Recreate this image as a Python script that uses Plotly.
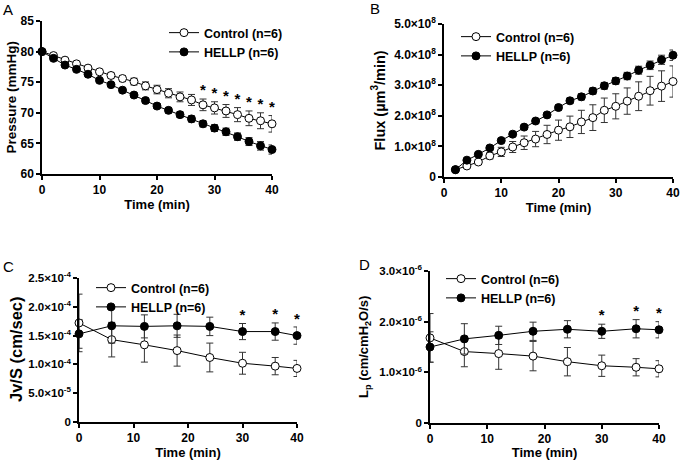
import plotly.graph_objects as go

# ---- data ----
# Panel A: pressure (mmHg), every 2 min
t_a = list(range(0, 42, 2))
ctrl_a = [80.0, 79.35, 78.6, 78.0, 77.3, 76.7, 76.1, 75.6, 75.1, 74.4, 73.8,
          73.2, 72.6, 72.1, 71.3, 70.8, 70.3, 69.7, 69.1, 68.7, 68.2]
ctrl_a_err = [0.0, 0.15, 0.2, 0.25, 0.3, 0.35, 0.4, 0.5, 0.55, 0.65, 0.7,
              0.75, 0.8, 0.9, 0.95, 1.0, 1.05, 1.15, 1.2, 1.3, 1.35]
hellp_a = [80.0, 78.9, 77.8, 77.1, 76.3, 75.3, 74.6, 73.7, 72.9, 72.0, 71.1,
           70.4, 69.7, 69.0, 68.2, 67.5, 66.9, 66.1, 65.3, 64.6, 64.0]
hellp_a_err = [0.0, 0.1, 0.15, 0.2, 0.2, 0.25, 0.3, 0.3, 0.35, 0.4, 0.4,
               0.45, 0.45, 0.5, 0.5, 0.55, 0.6, 0.6, 0.65, 0.7, 0.75]
stars_a = [28, 30, 32, 34, 36, 38, 40]

# Panel B: flux (x1e8 um^3/min)
t_b = list(range(2, 42, 2))
ctrl_b = [0.24, 0.36, 0.49, 0.69, 0.82, 0.98, 1.12, 1.24, 1.39, 1.53,
          1.64, 1.80, 1.94, 2.18, 2.31, 2.48, 2.64, 2.82, 2.97, 3.12]
ctrl_b_err = [0.03, 0.05, 0.07, 0.1, 0.15, 0.18, 0.22, 0.25, 0.3, 0.33,
              0.35, 0.38, 0.42, 0.4, 0.41, 0.43, 0.47, 0.47, 0.5, 0.51]
hellp_b = [0.24, 0.55, 0.74, 0.95, 1.19, 1.40, 1.63, 1.83, 2.03, 2.27,
           2.49, 2.62, 2.81, 2.98, 3.14, 3.30, 3.49, 3.65, 3.83, 3.98]
hellp_b_err = [0.02, 0.03, 0.04, 0.05, 0.05, 0.06, 0.06, 0.07, 0.07, 0.08,
               0.09, 0.1, 0.1, 0.11, 0.11, 0.12, 0.13, 0.14, 0.15, 0.17]

# Panel C: Jv/S (x1e-4 cm/sec)
t_cd = [0, 6, 12, 18, 24, 30, 36, 40]
ctrl_c = [1.72, 1.43, 1.34, 1.24, 1.12, 1.02, 0.97, 0.93]
ctrl_c_err = [0.5, 0.3, 0.3, 0.27, 0.25, 0.19, 0.15, 0.14]
hellp_c = [1.53, 1.67, 1.66, 1.67, 1.66, 1.57, 1.57, 1.50]
hellp_c_err = [0.25, 0.3, 0.2, 0.2, 0.16, 0.14, 0.15, 0.15]
stars_cd = [30, 36, 40]

# Panel D: Lp (x1e-6 cm/cmH2O/s)
ctrl_d = [1.68, 1.41, 1.37, 1.32, 1.21, 1.13, 1.10, 1.07]
ctrl_d_err = [0.48, 0.3, 0.31, 0.29, 0.28, 0.21, 0.17, 0.16]
hellp_d = [1.50, 1.66, 1.73, 1.81, 1.85, 1.81, 1.86, 1.84]
hellp_d_err = [0.3, 0.3, 0.18, 0.18, 0.17, 0.14, 0.18, 0.16]

FONT = "Arial, Liberation Sans, sans-serif"

panels = [
    dict(ax="", t=t_a, c=ctrl_a, ce=ctrl_a_err, h=hellp_a, he=hellp_a_err,
         stars=stars_a, yr=[60, 85], ytv=[60, 65, 70, 75, 80, 85],
         ytt=[str(v) for v in [60, 65, 70, 75, 80, 85]], yfs=12,
         xd=[42 / 680, 272 / 680], yd=[1 - 174 / 460, 1 - 21 / 460],
         legend="legend", lx=164 / 680, ly=1 - 18 / 460),
    dict(ax="2", t=t_b, c=ctrl_b, ce=ctrl_b_err, h=hellp_b, he=hellp_b_err,
         stars=[], yr=[0, 5], ytv=[0, 1, 2, 3, 4, 5],
         ytt=["0"] + [f"{v}.0×10<sup>8</sup>" for v in range(1, 6)], yfs=12,
         xd=[444 / 680, 673 / 680], yd=[1 - 177 / 460, 1 - 24 / 460],
         legend="legend2", lx=456 / 680, ly=1 - 22 / 460),
    dict(ax="3", t=t_cd, c=ctrl_c, ce=ctrl_c_err, h=hellp_c, he=hellp_c_err,
         stars=stars_cd, yr=[0, 2.5], ytv=[0, 0.5, 1, 1.5, 2, 2.5],
         ytt=["0", "5.0×10<sup>-5</sup>", "1.0×10<sup>-4</sup>", "1.5×10<sup>-4</sup>",
              "2.0×10<sup>-4</sup>", "2.5×10<sup>-4</sup>"], yfs=11.5,
         xd=[79 / 680, 297 / 680], yd=[1 - 422 / 460, 1 - 278 / 460],
         legend="legend3", lx=91 / 680, ly=1 - 273 / 460),
    dict(ax="4", t=t_cd, c=ctrl_d, ce=ctrl_d_err, h=hellp_d, he=hellp_d_err,
         stars=stars_cd, yr=[0, 3], ytv=[0, 1, 2, 3],
         ytt=["0", "1.0×10<sup>-6</sup>", "2.0×10<sup>-6</sup>", "3.0×10<sup>-6</sup>"], yfs=11.5,
         xd=[430 / 680, 659 / 680], yd=[1 - 423 / 460, 1 - 271 / 460],
         legend="legend4", lx=441 / 680, ly=1 - 264 / 460),
]

fig = go.Figure()
layout = dict(
    width=680, height=460, margin=dict(l=0, r=0, t=0, b=0, autoexpand=False),
    paper_bgcolor="white", plot_bgcolor="white",
    font=dict(family=FONT, color="black"),
)
annotations = []

for p in panels:
    xa, ya = "x" + p["ax"], "y" + p["ax"]
    common = dict(xaxis=xa, yaxis=ya, mode="lines+markers", cliponaxis=False,
                  line=dict(color="black", width=1), legend=p["legend"])
    fig.add_trace(go.Scatter(
        x=p["t"], y=p["c"], name="<b>Control (n=6)</b>",
        error_y=dict(type="data", array=p["ce"], color="#333333", thickness=1, width=3.5),
        marker=dict(symbol="circle", size=8, color="white", line=dict(color="black", width=1)),
        **common))
    fig.add_trace(go.Scatter(
        x=p["t"], y=p["h"], name="<b>HELLP (n=6)</b>",
        error_y=dict(type="data", array=p["he"], color="#333333", thickness=1, width=3.5),
        marker=dict(symbol="circle", size=8, color="black", line=dict(color="black", width=1)),
        **common))
    if p["stars"]:
        span = p["yr"][1] - p["yr"][0]
        sy = []
        for s in p["stars"]:
            i = p["t"].index(s)
            top = max(p["c"][i] + p["ce"][i], p["h"][i] + p["he"][i])
            sy.append(top + 0.05 * span)
        fig.add_trace(go.Scatter(
            x=p["stars"], y=sy, mode="text", text=["<b>*</b>"] * len(sy), showlegend=False,
            xaxis=xa, yaxis=ya, cliponaxis=False,
            textfont=dict(size=15, family=FONT, color="black")))

    axis_style = dict(showline=True, linecolor="black", linewidth=1.5, ticks="outside",
                      ticklen=4, tickwidth=1.5, tickcolor="black", showgrid=False,
                      zeroline=False, automargin=False)
    xkey = "xaxis" + p["ax"]
    ykey = "yaxis" + p["ax"]
    layout[xkey] = dict(domain=p["xd"], range=[0, 40], tickvals=[0, 10, 20, 30, 40],
                        ticktext=[f"<b>{v}</b>" for v in [0, 10, 20, 30, 40]],
                        tickfont=dict(size=12, family=FONT, color="black"),
                        anchor=ya, title=dict(text="<b>Time (min)</b>", font=dict(size=13),
                                              standoff=3), **axis_style)
    layout[ykey] = dict(domain=p["yd"], range=p["yr"], tickvals=p["ytv"],
                        ticktext=[f"<b>{t}</b>" for t in p["ytt"]],
                        tickfont=dict(size=p["yfs"], family=FONT, color="black"),
                        anchor=xa, **axis_style)
    layout[p["legend"]] = dict(x=p["lx"], y=p["ly"], xanchor="left", yanchor="top",
                               bgcolor="rgba(0,0,0,0)", itemwidth=30, tracegroupgap=0,
                               font=dict(size=12.5, family=FONT))

# y-axis titles
ytitles = [
    ("<b>Pressure (mmHg)</b>", 11, (21 + 174) / 2, 13.5),
    ("<b>Flux (µm<sup>3</sup>/min)</b>", 378, (24 + 177) / 2, 14.5),
    ("<b>Jv/S (cm/sec)</b>", 16, (278 + 422) / 2, 16.5),
    ("<b>L<sub>p</sub> (cm/cmH<sub>2</sub>O/s)</b>", 364, (271 + 423) / 2, 13),
]
for txt, px, py, fs in ytitles:
    annotations.append(dict(text=txt, x=px / 680, y=1 - py / 460, xref="paper", yref="paper",
                            xanchor="center", yanchor="middle",
                            textangle=-90, showarrow=False, font=dict(size=fs, family=FONT)))

# panel letters
for letter, px, py in [("A", 8, 9), ("B", 375, 8), ("C", 8, 266), ("D", 364, 264)]:
    annotations.append(dict(text=letter, x=px / 680, y=1 - py / 460, xref="paper", yref="paper",
                            xanchor="center", yanchor="middle",
                            showarrow=False, font=dict(size=15, family=FONT)))

layout["annotations"] = annotations
fig.update_layout(**layout)
fig.write_html("out.html", config={"displayModeBar": False},
               post_script="document.body.style.margin = '0';")
